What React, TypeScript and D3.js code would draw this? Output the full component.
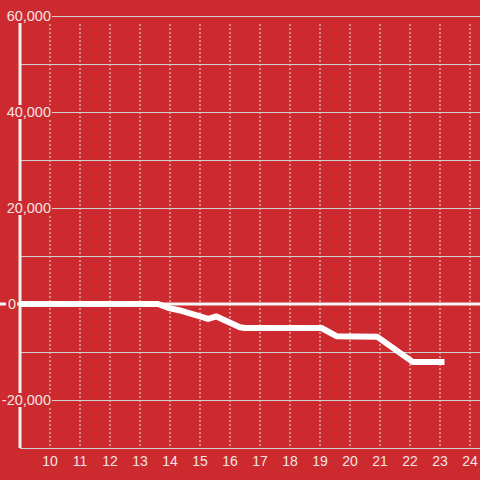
import React from "react";
import * as d3 from "d3";

const times = [9, 13.6, 14, 14.3, 15, 15.27, 15.55, 16.33, 16.5, 19.05, 19.55, 20.9, 22.1, 23.15];
const values = [0, 0, -900, -1300, -2600, -3100, -2600, -4850, -5000, -5000, -6700, -6800, -12100, -12100];
const xTicks = [10, 11, 12, 13, 14, 15, 16, 17, 18, 19, 20, 21, 22, 23, 24];
const yGrid = [-30000, -20000, -10000, 0, 10000, 20000, 30000, 40000, 50000, 60000];
const yLabels = [-20000, 0, 20000, 40000, 60000];

const W = 480;
const H = 480;
const BG = "#cc2a2f";
const FONT = "'Liberation Sans', Arial, sans-serif";

function textWidth(s: string, size: number) {
  let w = 0;
  for (const c of s) {
    if (c === ",") w += 0.278;
    else if (c === "-") w += 0.333;
    else w += 0.556;
  }
  return w * size;
}

export default function App() {
  const x = d3.scaleLinear().domain([9, 9 + 460 / 30]).range([20, 480]);
  const y = d3.scaleLinear().domain([-30000, 60000]).range([448, 16]);
  const fmt = d3.format(",");
  const data = times.map((t, i) => [t, values[i]] as [number, number]);
  const line = d3
    .line<[number, number]>()
    .x((d) => x(d[0]))
    .y((d) => y(d[1]));

  return (
    <svg
      width={W}
      height={H}
      style={{ position: "absolute", left: 0, top: 0, display: "block" }}
    >
      <rect x={0} y={0} width={W} height={H} fill={BG} />
      {xTicks.map((t) => (
        <line
          key={"vx" + t}
          x1={x(t)}
          x2={x(t)}
          y1={24}
          y2={446}
          stroke="#e6e6e6"
          strokeWidth={1}
          strokeDasharray="2,2"
        />
      ))}
      {yGrid
        .filter((v) => v !== 0)
        .map((v) => (
          <line
            key={"gy" + v}
            x1={20}
            x2={W}
            y1={Math.round(y(v)) + 0.5}
            y2={Math.round(y(v)) + 0.5}
            stroke="#cfcfcf"
            strokeWidth={1}
          />
        ))}
      <line x1={20} x2={20} y1={16} y2={448} stroke="#f2f2f2" strokeWidth={3} />
      <line x1={0} x2={W} y1={y(0)} y2={y(0)} stroke="#f5f5f5" strokeWidth={3} />
      {yLabels.map((v) => {
        const s = fmt(v).replace("−", "-");
        const size = 14.5;
        const xe = v === 0 ? 16 : 51;
        const tw = textWidth(s, size);
        return (
          <g key={"yl" + v}>
            <rect
              x={xe - tw - 2}
              y={y(v) - 7}
              width={tw + 3}
              height={14}
              fill={BG}
            />
            <text
              x={xe}
              y={y(v)}
              dy="0.35em"
              textAnchor="end"
              fontFamily={FONT}
              fontSize={size}
              fill="#f3e4e4"
            >
              {s}
            </text>
          </g>
        );
      })}
      {xTicks.map((t) => (
        <text
          key={"xl" + t}
          x={x(t)}
          y={466}
          textAnchor="middle"
          fontFamily={FONT}
          fontSize={14}
          fill="#f3e4e4"
        >
          {t}
        </text>
      ))}
      <path
        d={line(data) || ""}
        fill="none"
        stroke="#ffffff"
        strokeWidth={6}
        strokeLinejoin="round"
        strokeLinecap="butt"
      />
    </svg>
  );
}
